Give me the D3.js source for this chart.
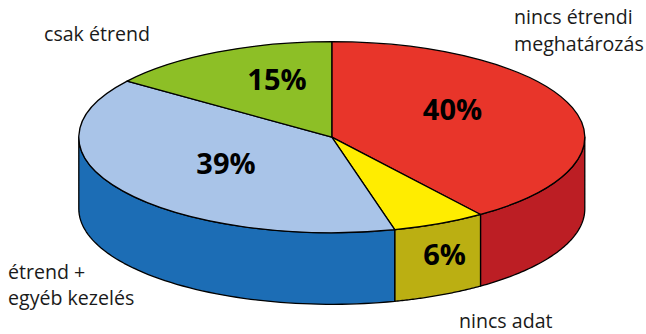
<!DOCTYPE html>
<html><head><meta charset="utf-8">
<script src="https://cdn.jsdelivr.net/npm/d3@7"></script>
<style>html,body{margin:0;padding:0;background:#fff}svg{display:block}text{font-family:"Open Sans",sans-serif;fill:#1a1a1a}</style>
</head><body><svg id="c" width="646" height="334"></svg>
<script>
const categories=["nincs étrendi meghatározás","nincs adat","étrend + egyéb kezelés","csak étrend"];
const values=[40,6,39,15];
const percentLabels=["40%","6%","39%","15%"];
const topColors=["#e8352a","#ffed00","#a9c4e8","#8dbf26"];
const sideColors=["#bc1e24","#bbaf12","#1c6db5","#8dbf26"];
const labelLines=[["nincs étrendi","meghatározás"],["nincs adat"],["étrend +","egyéb kezelés"],["csak étrend"]];
const labelPos=[[514,24],[459,328],[8,279],[44,41]];
const pctPos=[[452.5,120],[444.5,265],[226,174],[277,90]];

const W=646,H=334,cx=331.8,cy=137.2,rx=253,ry=95.5,depth=71.6;
const svg=d3.select("#c");
const px=d3.scaleLinear().domain([-1,1]).range([cx-rx,cx+rx]);
const py=d3.scaleLinear().domain([-1,1]).range([cy-ry,cy+ry]);
const arcs=d3.pie().sort(null)(values);
const sx=a=>px(Math.sin(a)), sy=a=>py(-Math.cos(a));

// side walls (only the part facing the viewer)
const wall=d3.area().x(a=>sx(a)).y0(a=>sy(a)).y1(a=>sy(a)+depth);
arcs.forEach((d,i)=>{
  const a0=Math.max(d.startAngle,Math.PI/2),a1=Math.min(d.endAngle,Math.PI*1.5);
  if(a1<=a0)return;
  const n=60,pts=d3.range(n+1).map(k=>a0+(a1-a0)*k/n);
  svg.append("path").attr("d",wall(pts)).attr("fill",sideColors[i])
    .attr("stroke","#000").attr("stroke-width",1.3).attr("stroke-linejoin","round");
});
// top faces
const arc=d3.arc().innerRadius(0).outerRadius(rx);
const topFace=svg.append("g").attr("transform",`translate(${cx},${cy}) scale(1,${ry/rx})`);
topFace.selectAll("path").data(arcs).join("path")
  .attr("d",arc).attr("fill",(d,i)=>topColors[i])
  .attr("stroke","#000").attr("stroke-width",1.3).attr("stroke-linejoin","round")
  .attr("vector-effect","non-scaling-stroke");
// percent labels
svg.selectAll("text.p").data(percentLabels).join("text").attr("class","p")
  .attr("x",(d,i)=>pctPos[i][0]).attr("y",(d,i)=>pctPos[i][1])
  .attr("text-anchor","middle").attr("font-size",29).attr("font-weight",700)
  .style("fill","#000").text(d=>d);
// category labels
labelLines.forEach((lines,i)=>{
  const lh=i===0?27:26;
  lines.forEach((t,j)=>svg.append("text").attr("class","l")
    .attr("x",labelPos[i][0]).attr("y",labelPos[i][1]+j*lh)
    .attr("font-size",19.6).text(t));
});
</script></body></html>
